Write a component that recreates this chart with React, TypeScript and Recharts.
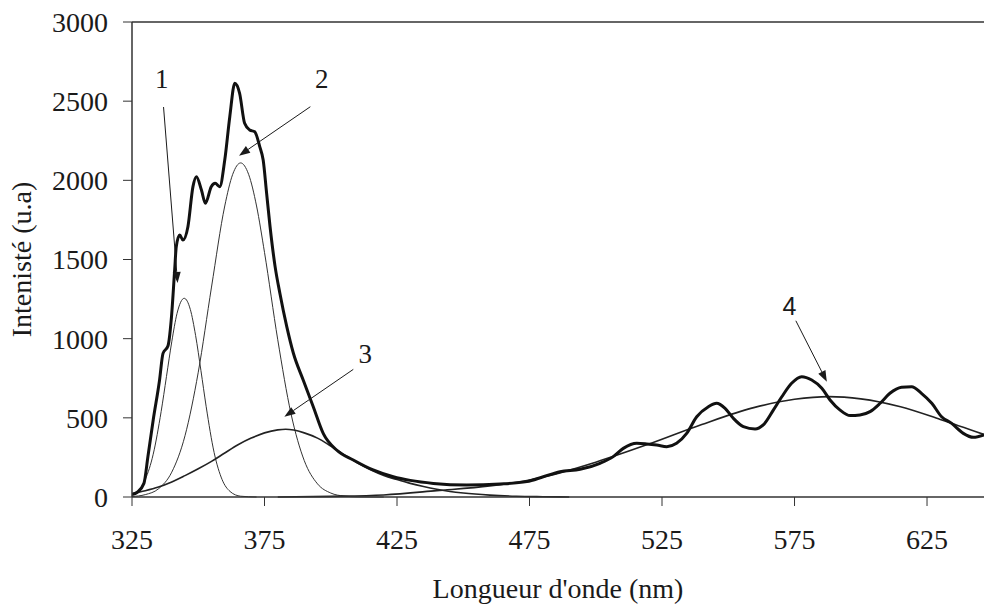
import React from 'react';
import {
  LineChart,
  Line,
  XAxis,
  YAxis,
  ReferenceLine,
  ReferenceDot,
  Label,
} from 'recharts';

// measured spectrum (thick curve)
const spectrumNm = [
  325, 327, 329.5, 331, 333, 335.4, 336.7, 338.6, 339.8, 341.1, 341.7, 343, 344.2, 346.1, 348,
  349.3, 351.2, 352.7, 354.9, 356.4, 358.1, 360, 361.9, 363.8, 365.6, 367.5, 369.4, 371.3,
  373.2, 374.5, 375.8, 377.1, 379, 380.8, 383.4, 385.9, 389.6, 393.4, 397.2, 402.2, 408.5,
  416, 423.6, 430, 438.7, 451.3, 463.9, 474, 480.2, 486.5, 494.1, 501.6, 506.6, 510.4, 515.5,
  519.2, 523, 526.8, 530.5, 534.3, 538.1, 542.5, 545.6, 548.8, 551.9, 555.7, 560.1, 563.2,
  567, 570.2, 573.9, 577.7, 581.5, 585.3, 588.4, 592.2, 596, 599.7, 603.5, 607.3, 611, 615.4,
  619.2, 622.9, 626.8, 630.5, 634.3, 638.7, 642.5, 646.5,
];
const spectrumInt = [
  15, 30, 86, 254, 486, 739, 907, 955, 1118, 1434, 1581, 1655, 1623, 1707, 1960,
  2023, 1939, 1855, 1960, 1981, 1960, 2128, 2402, 2613, 2550, 2360, 2318, 2307,
  2213, 2128, 1918, 1707, 1455, 1287, 1076, 908, 739, 570, 400, 297, 234,
  171, 128, 105, 86, 76, 82, 97, 128, 160, 175, 213, 255, 307, 339,
  335, 328, 318, 339, 402, 507, 570, 592, 560, 497, 444, 429, 455,
  549, 633, 718, 760, 739, 687, 613, 549, 514, 518, 539, 592, 655, 693,
  697, 655, 592, 507, 465, 402, 377, 392,
];

// fitted component 1
const band1Nm = [325, 326, 330, 333, 336, 338, 340, 342, 344.7, 347, 349, 351, 353, 356, 359, 362, 366, 372];
const band1Int = [12, 20, 110, 270, 540, 760, 980, 1160, 1255, 1185, 1020, 800, 570, 280, 110, 35, 5, 0];

// fitted component 2
const band2Nm = [325, 330, 335, 340, 345, 350, 355, 360, 363, 366, 369, 372, 375, 380, 385, 390, 395, 400, 405, 410, 420];
const band2Int = [3, 15, 52, 157, 387, 788, 1326, 1838, 2038, 2110, 2038, 1838, 1545, 993, 526, 230, 83, 25, 6, 1, 0];

// fitted component 3
const band3Nm = [325, 330, 335, 340, 345, 350, 355, 360, 365, 370, 375, 380, 383, 386, 390, 395, 400, 405, 410, 415, 420, 425, 430, 435, 440, 445, 450, 460, 470, 480, 490];
const band3Int = [22, 40, 63, 95, 135, 178, 225, 278, 330, 372, 405, 424, 428, 423, 405, 372, 322, 268, 216, 172, 136, 110, 86, 66, 49, 35, 25, 12, 5, 2, 0];

// fitted component 4
const band4Nm = [380, 400, 420, 440, 460, 480, 500, 520, 540, 560, 575, 588, 600, 615, 630, 646.5];
const band4Int = [0, 4, 13, 40, 70, 125, 220, 334, 458, 566, 617, 634, 620, 570, 490, 395];

const xTicks = [325, 375, 425, 475, 525, 575, 625];
const yTicks = [0, 500, 1000, 1500, 2000, 2500, 3000];

// peak labels and arrows, in data units
const markText = ['1', '2', '3', '4'];
const markTextNm = [336.2, 396.6, 413, 573.1];
const markTextInt = [2586, 2586, 846, 1150];
const arrowFromNm = [336.9, 392.3, 408.5, 575.5];
const arrowFromInt = [2463, 2465, 806, 1113];
const arrowToNm = [342.2, 365.4, 382.5, 587.2];
const arrowToInt = [1352, 2156, 507, 728];

const zip = (xs: number[], ys: number[]) => xs.map((nm, i) => ({ nm, v: ys[i] }));

const spectrum = zip(spectrumNm, spectrumInt);
const band1 = zip(band1Nm, band1Int);
const band2 = zip(band2Nm, band2Int);
const band3 = zip(band3Nm, band3Int);
const band4 = zip(band4Nm, band4Int);

const SERIF = '"Liberation Serif", "Times New Roman", serif';
const SANS = '"Liberation Sans", Arial, sans-serif';
const INK = '#1a1a1a';

function Arrow(props: any) {
  const { x1, y1, x2, y2 } = props;
  const ang = Math.atan2(y2 - y1, x2 - x1);
  const len = 11;
  const half = 4;
  const bx = x2 - len * Math.cos(ang);
  const by = y2 - len * Math.sin(ang);
  const px = -Math.sin(ang) * half;
  const py = Math.cos(ang) * half;
  return (
    <g>
      <line x1={x1} y1={y1} x2={bx} y2={by} stroke={INK} strokeWidth={1} />
      <polygon
        points={`${x2},${y2} ${bx + px},${by + py} ${bx - px},${by - py}`}
        fill={INK}
      />
    </g>
  );
}

export default function App() {
  return (
    <div
      style={{
        position: 'fixed',
        left: 0,
        top: 0,
        width: 984,
        height: 605,
        background: '#fff',
        overflow: 'hidden',
      }}
    >
      <LineChart
        width={984}
        height={605}
        margin={{ top: 22, right: 0, left: 0, bottom: 0 }}
      >
        <XAxis
          type="number"
          dataKey="nm"
          domain={[325, 646.5]}
          ticks={xTicks}
          allowDataOverflow
          height={108}
          tickSize={9}
          tickMargin={23}
          axisLine={{ stroke: '#333', strokeWidth: 1.5 }}
          tickLine={{ stroke: '#333', strokeWidth: 1 }}
          tick={{ fill: INK, fontSize: 28, fontFamily: SERIF }}
        >
          <Label
            content={(p: any) => {
              const vb = p.viewBox || { x: 132, y: 497, width: 852, height: 108 };
              return (
                <text
                  x={vb.x + vb.width / 2}
                  y={vb.y + 101}
                  textAnchor="middle"
                  fill={INK}
                  fontSize={28}
                  fontFamily={SERIF}
                >
                  Longueur d'onde (nm)
                </text>
              );
            }}
          />
        </XAxis>
        <YAxis
          type="number"
          domain={[0, 3000]}
          ticks={yTicks}
          width={132}
          tickSize={9}
          tickMargin={15}
          axisLine={{ stroke: '#333', strokeWidth: 1.5 }}
          tickLine={{ stroke: '#333', strokeWidth: 1 }}
          tick={{ fill: INK, fontSize: 28, fontFamily: SERIF }}
        >
          <Label
            content={(p: any) => {
              const vb = p.viewBox || { x: 0, y: 22, width: 132, height: 475 };
              const cx = vb.x + 31;
              const cy = vb.y + vb.height / 2;
              return (
                <text
                  x={cx}
                  y={cy}
                  transform={`rotate(-90, ${cx}, ${cy})`}
                  textAnchor="middle"
                  fill={INK}
                  fontSize={28}
                  fontFamily={SERIF}
                >
                  Intenisté (u.a)
                </text>
              );
            }}
          />
        </YAxis>

        <ReferenceLine y={3000} stroke="#333" strokeWidth={1.5} ifOverflow="visible" />

        <Line data={band1} dataKey="v" type="monotone" stroke="#333" strokeWidth={1} dot={false} isAnimationActive={false} />
        <Line data={band2} dataKey="v" type="monotone" stroke="#333" strokeWidth={1} dot={false} isAnimationActive={false} />
        <Line data={band3} dataKey="v" type="monotone" stroke="#222" strokeWidth={1.6} dot={false} isAnimationActive={false} />
        <Line data={band4} dataKey="v" type="monotone" stroke="#222" strokeWidth={1.6} dot={false} isAnimationActive={false} />
        <Line data={spectrum} dataKey="v" type="monotone" stroke="#111" strokeWidth={3} dot={false} isAnimationActive={false} />

        {markText.map((t, i) => (
          <ReferenceLine
            key={`arrow-${t}`}
            segment={[
              { x: arrowFromNm[i], y: arrowFromInt[i] },
              { x: arrowToNm[i], y: arrowToInt[i] },
            ]}
            ifOverflow="visible"
            shape={Arrow}
          />
        ))}
        {markText.map((t, i) => (
          <ReferenceDot
            key={`mark-${t}`}
            x={markTextNm[i]}
            y={markTextInt[i]}
            r={0}
            ifOverflow="visible"
            shape={(p: any) => (
              <text
                x={p.cx}
                y={p.cy}
                textAnchor="middle"
                fill={INK}
                fontSize={i === 3 ? 25 : 27}
                fontFamily={i === 3 ? SANS : SERIF}
              >
                {t}
              </text>
            )}
          />
        ))}
      </LineChart>
    </div>
  );
}
